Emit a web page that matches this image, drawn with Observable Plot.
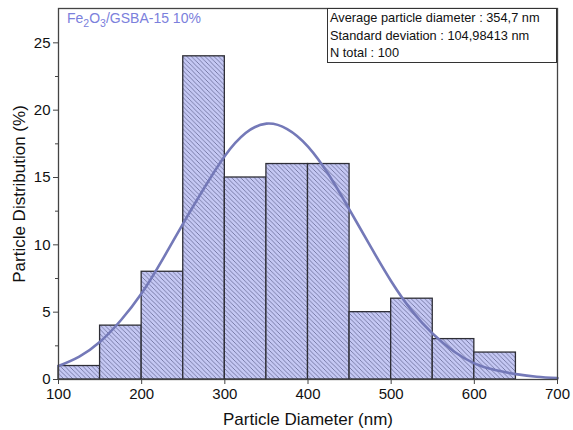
<!DOCTYPE html>
<html>
<head>
<meta charset="utf-8">
<script src="https://cdn.jsdelivr.net/npm/d3@7"></script>
<script src="https://cdn.jsdelivr.net/npm/@observablehq/plot@0.6"></script>
<style>
  html, body { margin: 0; padding: 0; background: #fff; }
  #chart { position: relative; width: 573px; height: 430px; font-family: "Liberation Sans", Arial, sans-serif; }
  #chart svg { position: absolute; left: 0; top: 0; }
  .stats { position: absolute; left: 327px; top: 8px; width: 230px; height: 55px; border: 1.3px solid #333; box-sizing: border-box;
    font-size: 12.8px; line-height: 17.5px; padding: 0 0 0 2px; color: #111; background: #fff; white-space: nowrap; }
  .label { position: absolute; left: 67px; top: 10px; font-size: 14px; color: #7b80dc; }
  .label sub { font-size: 10.5px; vertical-align: -4px; line-height: 0; }
</style>
</head>
<body>
<div id="chart"></div>
<script>
// Histogram bins (nm) and counts (%)
const binStart = [100, 150, 200, 250, 300, 350, 400, 450, 500, 550, 600];
const binEnd   = [150, 200, 250, 300, 350, 400, 450, 500, 550, 600, 650];
const counts   = [1, 4, 8, 24, 15, 16, 16, 5, 6, 3, 2];

// Fitted normal curve
const curveX = [100, 125, 150, 175, 200, 225, 250, 275, 300, 325, 350, 375, 400, 425, 450, 475, 500, 525, 550, 575, 600, 625, 650, 675, 700];
const curveY = [1.0, 1.7, 2.8, 4.4, 6.4, 8.9, 11.6, 14.2, 16.6, 18.3, 19.0, 18.6, 17.3, 15.2, 12.6, 9.9, 7.3, 5.1, 3.4, 2.1, 1.2, 0.7, 0.4, 0.2, 0.1];

const xTicks = [100, 200, 300, 400, 500, 600, 700];
const yTicks = [0, 5, 10, 15, 20, 25];
const yMinor = [2.5, 7.5, 12.5, 17.5, 22.5];

const bars = binStart.map((s, i) => ({x1: s, x2: binEnd[i], y: counts[i]}));
const curve = curveX.map((x, i) => ({x, y: curveY[i]}));

const plot = Plot.plot({
  width: 573,
  height: 430,
  marginLeft: 58,
  marginRight: 16,
  marginTop: 8,
  marginBottom: 51,
  style: {fontFamily: "'Liberation Sans', Arial, sans-serif", fontSize: "15px", color: "#111", background: "transparent"},
  x: {type: "linear", domain: [100, 700]},
  y: {type: "linear", domain: [0, 27.55]},
  marks: [
    Plot.rectY(bars, {x1: "x1", x2: "x2", y: "y", fill: "url(#hatch)", stroke: "#2e2e36", strokeWidth: 1.3, inset: 0}),
    Plot.line(curve, {x: "x", y: "y", stroke: "#7479b8", strokeWidth: 2.6, curve: "natural"}),
    Plot.axisX(xTicks, {tickSize: 5, tickPadding: 4, fontSize: 15, label: null, stroke: "#444"}),
    Plot.axisY(yTicks, {tickSize: 5, tickPadding: 3, fontSize: 15, label: null, stroke: "#444"}),
    Plot.axisY(yMinor, {tickSize: 3, text: null, label: null, stroke: "#444"}),
    Plot.frame({stroke: "#444", strokeWidth: 1.3}),
    Plot.text(["Particle Diameter (nm)"], {frameAnchor: "bottom", textAnchor: "middle", dy: 45, fontSize: 17, fill: "#111"}),
    Plot.text(["Particle Distribution (%)"], {frameAnchor: "left", textAnchor: "middle", dx: -39, rotate: -90, fontSize: 17, fill: "#111"})
  ]
});

// hatch pattern
const svg = d3.select(plot);
const defs = svg.insert("defs", ":first-child");
const pat = defs.append("pattern").attr("id", "hatch").attr("patternUnits", "userSpaceOnUse")
  .attr("width", 4.5).attr("height", 4.5);
pat.append("rect").attr("width", 4.5).attr("height", 4.5).attr("fill", "#c5c8f4");
pat.append("path").attr("d", "M0,0 L4.5,4.5 M-1,3.5 L1,5.5 M3.5,-1 L5.5,1")
  .attr("stroke", "#50547e").attr("stroke-width", 0.65);

const root = document.getElementById("chart");
root.appendChild(plot);
const lab = document.createElement("div");
lab.className = "label";
lab.innerHTML = "Fe<sub>2</sub>O<sub>3</sub>/GSBA-15 10%";
root.appendChild(lab);
const stats = document.createElement("div");
stats.className = "stats";
stats.innerHTML = "Average particle diameter : 354,7 nm<br>Standard deviation : 104,98413 nm<br>N total : 100";
root.appendChild(stats);
</script>
</body>
</html>
